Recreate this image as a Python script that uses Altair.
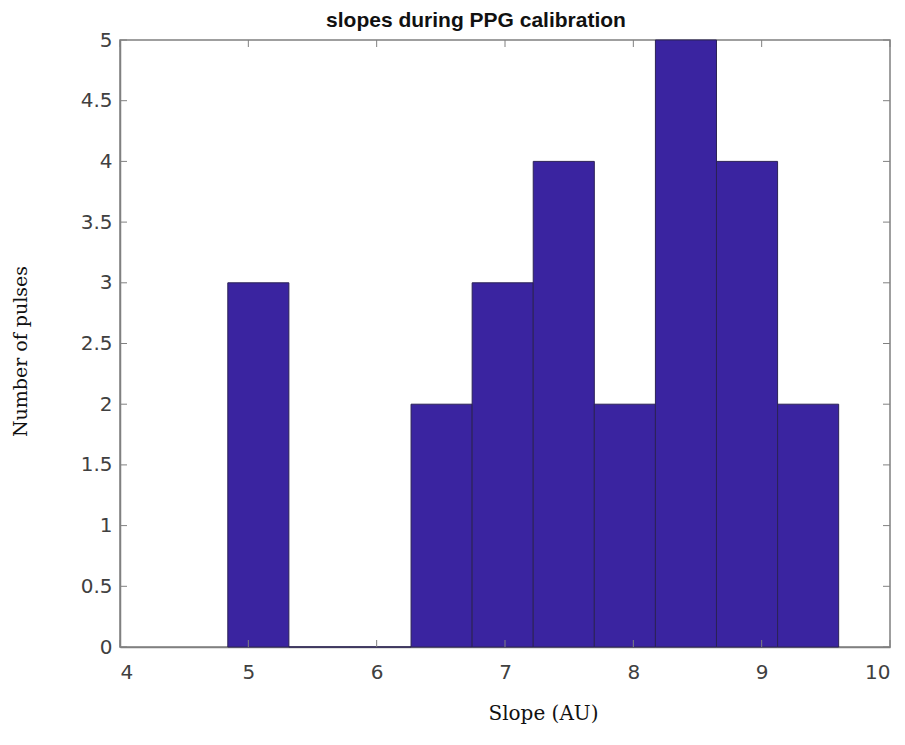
import altair as alt
import pandas as pd

bin_start = [4.84, 5.316, 5.792, 6.268, 6.744, 7.22, 7.696, 8.172, 8.648, 9.124]
bin_end = [5.316, 5.792, 6.268, 6.744, 7.22, 7.696, 8.172, 8.648, 9.124, 9.60]
counts = [3, 0, 0, 2, 3, 4, 2, 5, 4, 2]

x_ticks = [4, 5, 6, 7, 8, 9, 10]
y_ticks = [0, 0.5, 1, 1.5, 2, 2.5, 3, 3.5, 4, 4.5, 5]

W, H = 770, 607

df = pd.DataFrame({"start": bin_start, "end": bin_end, "count": counts})
xt = pd.DataFrame({"t": x_ticks})
yt = pd.DataFrame({"t": y_ticks})

xscale = alt.Scale(domain=[4, 10], nice=False, zero=False)
yscale = alt.Scale(domain=[0, 5], nice=False)

bars = alt.Chart(df).mark_rect(color="#3A24A0", stroke="#2B2256", strokeWidth=1).encode(
    x=alt.X("start:Q", scale=xscale,
            axis=alt.Axis(values=x_ticks, title="Slope (AU)", format="d", ticks=False,
                          labelPadding=15, titleX=423, titleY=66, titleBaseline="middle",
                          titleFontSize=20)),
    x2="end:Q",
    y=alt.Y("count:Q", scale=yscale,
            axis=alt.Axis(values=y_ticks, title="Number of pulses", ticks=False,
                          format="~f",
                          labelPadding=8, titleX=-100, titleY=311, titleAngle=270,
                          titleBaseline="middle", titleAlign="center",
                          titleFontSize=19)),
    y2=alt.datum(0),
)

tick_color = "#808080"
xb = alt.Chart(xt).mark_rule(color=tick_color).encode(
    x=alt.X("t:Q", scale=xscale), y=alt.value(H), y2=alt.value(H - 7))
xtp = alt.Chart(xt).mark_rule(color=tick_color).encode(
    x=alt.X("t:Q", scale=xscale), y=alt.value(0), y2=alt.value(7))
yl = alt.Chart(yt).mark_rule(color=tick_color).encode(
    y=alt.Y("t:Q", scale=yscale), x=alt.value(0), x2=alt.value(7))
yr = alt.Chart(yt).mark_rule(color=tick_color).encode(
    y=alt.Y("t:Q", scale=yscale), x=alt.value(W), x2=alt.value(W - 7))

chart = alt.layer(bars, xb, xtp, yl, yr).properties(
    width=W, height=H,
    title=alt.TitleParams("slopes during PPG calibration", font="Liberation Sans",
                          fontSize=21, fontWeight="bold", color="#111111", offset=9,
                          dx=-29, dy=10),
    autosize="none",
    padding={"left": 120, "top": 40, "right": 15, "bottom": 98},
).configure_view(stroke="#808080", strokeWidth=1.5).configure_axis(
    domainColor="#808080", domainWidth=1.5, labelFont="DejaVu Sans", labelFontSize=20,
    labelColor="#404040", titleFont="DejaVu Serif",
    titleFontWeight="normal", titleColor="#111111", grid=False
)

chart.save("out.html", embed_options={"renderer": "svg", "actions": False})
